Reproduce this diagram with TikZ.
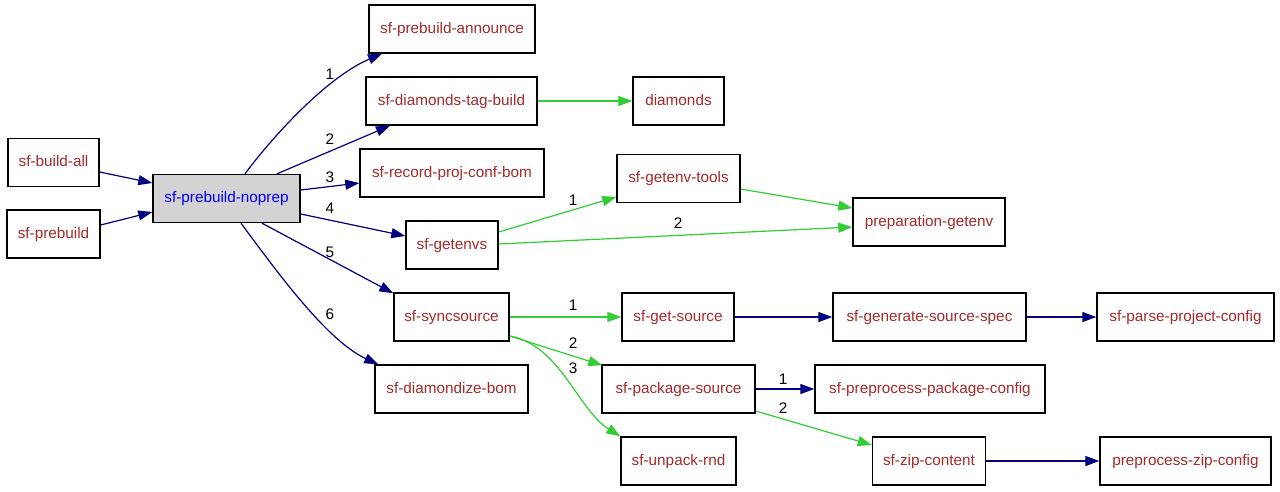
\documentclass[tikz,border=0pt]{standalone}
\usepackage{fontspec}
\setmainfont{Liberation Sans}
\usetikzlibrary{arrows.meta,calc}
\definecolor{txtbrown}{HTML}{A52A2A}
\definecolor{edgeblue}{HTML}{000080}
\definecolor{edgegreen}{HTML}{32CD32}
\definecolor{boxgray}{HTML}{D3D3D3}
\definecolor{txtblue}{HTML}{0000FF}
\begin{document}
\begin{tikzpicture}[x=1pt,y=-1pt,
  box/.style={draw=black,line width=1.4pt,fill=white,minimum height=48pt,inner sep=0pt,text height=10.7pt,text depth=2.1pt,text=txtbrown,font=\fontsize{15.3}{18}\selectfont},
  lbl/.style={text=black,font=\fontsize{15.3}{18}\selectfont,inner sep=0pt},
  be/.style={draw=edgeblue,line width=1.2pt,-{Triangle[length=14pt,width=10pt]}},
  ge/.style={draw=edgegreen,line width=1.2pt,-{Triangle[length=14pt,width=10pt]}}]
\fill[white] (0,0) rectangle (1280,491);
\useasboundingbox (0,0) rectangle (1280,491);
% nodes
\node[box,minimum width=91pt] (buildall) at (53.5,162.5) {sf-build-all};
\node[box,minimum width=93pt] (prebuild) at (53.5,234) {sf-prebuild};
\node[box,minimum width=147pt,fill=boxgray,text=txtblue] (noprep) at (226.5,198.5) {sf-prebuild-noprep};
\node[box,minimum width=166pt] (announce) at (452,29) {sf-prebuild-announce};
\node[box,minimum width=171pt] (dtb) at (451.5,101) {sf-diamonds-tag-build};
\node[box,minimum width=91pt] (diamonds) at (678.5,101) {diamonds};
\node[box,minimum width=184pt] (record) at (452,173) {sf-record-proj-conf-bom};
\node[box,minimum width=123pt] (tools) at (678.5,178.5) {sf-getenv-tools};
\node[box,minimum width=92pt] (getenvs) at (452,245) {sf-getenvs};
\node[box,minimum width=152pt] (prepgetenv) at (929,222) {preparation-getenv};
\node[box,minimum width=115pt] (syncsource) at (451.5,317) {sf-syncsource};
\node[box,minimum width=153pt] (diamondize) at (451.5,389) {sf-diamondize-bom};
\node[box,minimum width=112pt] (getsource) at (678,317) {sf-get-source};
\node[box,minimum width=153pt] (pkgsource) at (678.5,389) {sf-package-source};
\node[box,minimum width=115pt] (unpack) at (678.5,461) {sf-unpack-rnd};
\node[box,minimum width=193pt] (gensrc) at (929.5,317) {sf-generate-source-spec};
\node[box,minimum width=177pt] (parse) at (1185.5,317) {sf-parse-project-config};
\node[box,minimum width=230pt] (prepkg) at (930,389) {sf-preprocess-package-config};
\node[box,minimum width=113pt] (zip) at (929,461) {sf-zip-content};
\node[box,minimum width=171pt] (prezip) at (1185.5,461) {preprocess-zip-config};
% edges
\draw[be] ($(buildall.east)+(0,9.5)$) -- ($(noprep.west)+(0,-15.5)$);
\draw[be] ($(prebuild.east)+(0,-9)$) -- ($(noprep.west)+(0,13.5)$);
\draw[be] ($(noprep.north)+(18.5,0)$) .. controls (270,140) and (325,78) .. ($(announce.south)+(-70,0)$);
\draw[be] ($(noprep.north)+(50.5,0)$) -- ($(dtb.south)+(-61.5,0)$);
\draw[be] ($(noprep.east)+(0,-8.5)$) -- ($(record.west)+(0,10)$);
\draw[be] ($(noprep.east)+(0,15.5)$) -- ($(getenvs.west)+(0,-9)$);
\draw[be] ($(noprep.south)+(35.5,0)$) -- ($(syncsource.north west)+(0,1)$);
\draw[be] ($(noprep.south)+(14.5,0)$) .. controls (270,262) and (325,340) .. ($(diamondize.north west)+(4,0)$);
\draw[ge] (dtb.east) -- (diamonds.west);
\draw[ge] ($(getenvs.east)+(0,-13)$) -- ($(tools.west)+(0,18.5)$);
\draw[ge] ($(getenvs.east)+(0,-1)$) -- ($(prepgetenv.west)+(0,5)$);
\draw[ge] ($(tools.east)+(0,10.5)$) -- ($(prepgetenv.west)+(0,-14)$);
\draw[ge] (syncsource.east) -- (getsource.west);
\draw[ge] ($(syncsource.east)+(0,19)$) -- ($(pkgsource.north west)+(1,1)$);
\draw[ge] ($(syncsource.east)+(0,19)$) .. controls (560,345) and (578,410) .. (unpack.north west);
\draw[be] (getsource.east) -- (gensrc.west);
\draw[be] (gensrc.east) -- (parse.west);
\draw[be] (pkgsource.east) -- (prepkg.west);
\draw[ge] ($(pkgsource.east)+(0,22)$) -- ($(zip.west)+(0,-16)$);
\draw[be] (zip.east) -- (prezip.west);
% labels
\node[lbl] (l1) at (330,74) {1};
\node[lbl] (l2) at (330,139) {2};
\node[lbl] (l3) at (330,177) {3};
\node[lbl] (l4) at (330,208) {4};
\node[lbl] (l5) at (330,252) {5};
\node[lbl] (l6) at (330,314) {6};
\node[lbl] (m1) at (573,200) {1};
\node[lbl] (m2) at (678,223) {2};
\node[lbl] (s1) at (573,305) {1};
\node[lbl] (s2) at (573,343) {2};
\node[lbl] (s3) at (573,368) {3};
\node[lbl] (p1) at (783,379) {1};
\node[lbl] (p2) at (783,408) {2};
\end{tikzpicture}
\end{document}
